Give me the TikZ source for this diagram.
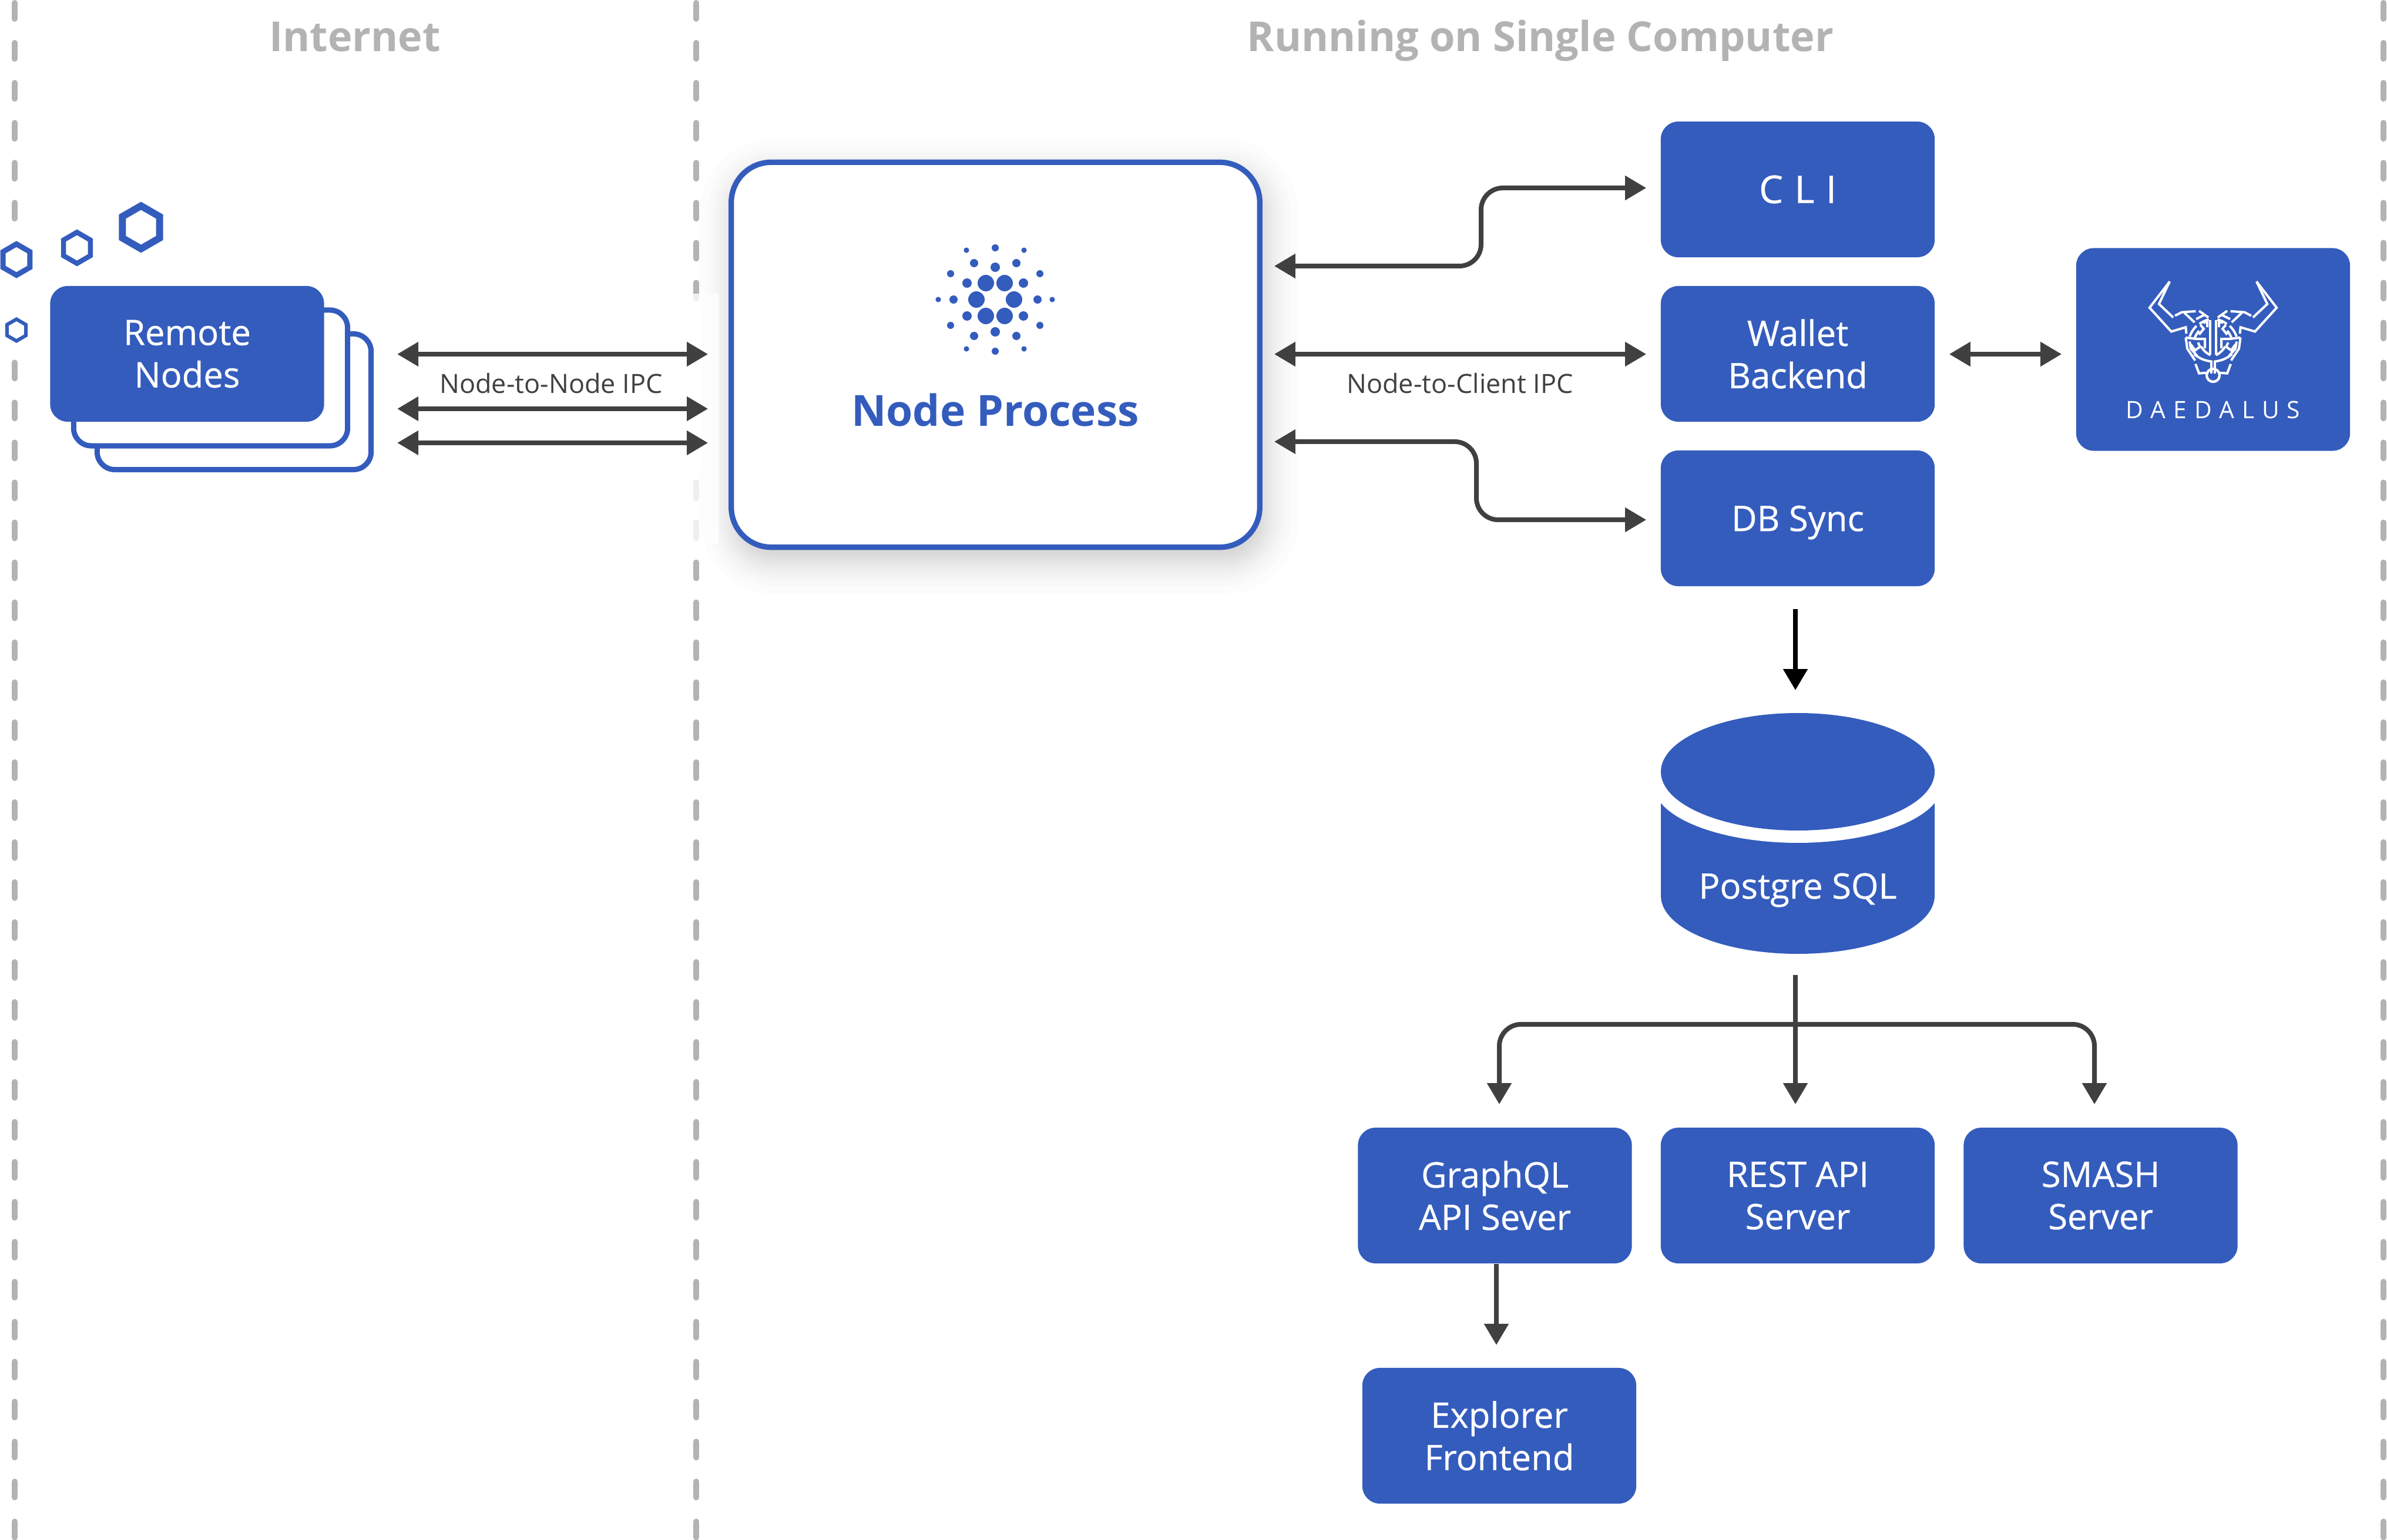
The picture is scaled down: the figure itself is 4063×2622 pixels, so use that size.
\documentclass[tikz,border=0pt]{standalone}
\usepackage{fontspec}
\setmainfont{Open Sans}
\newfontfamily\cardfont[FakeBold=0.6]{Open Sans}
\newfontfamily\spacedfont[LetterSpace=30,FakeBold=0.6]{Open Sans}
\newfontfamily\logofont[LetterSpace=32]{Open Sans}
\usetikzlibrary{arrows.meta,shapes.geometric}
\definecolor{cardblue}{HTML}{345CBD}
\definecolor{linegray}{HTML}{404040}
\definecolor{zonegray}{HTML}{B3B3B3}
\tikzset{
    card/.style={rectangle, rounded corners=0.3cm, minimum width=4.66cm, minimum height=2.31cm, inner sep=0pt, align=center, text=white, font=\fontsize{17}{20.5}\cardfont},
    bluecard/.style={card, fill=cardblue},
    backcard/.style={card, draw=cardblue, fill=white, line width=0.09cm},
    hexa/.style={regular polygon, regular polygon sides=6, draw=cardblue, fill=white, inner sep=0pt},
    zoneline/.style={zonegray, line width=0.1cm, line cap=round, dash pattern=on 0.27cm off 0.41cm},
    zonetitle/.style={anchor=base, text=zonegray, font=\fontsize{20}{24}\bfseries\selectfont},
    ipclabel/.style={text=linegray, font=\fontsize{12.8}{15}\selectfont},
    twoway/.style={linegray, line width=0.08cm, rounded corners=0.37cm, {Triangle[length=0.36cm,width=0.4cm]}-{Triangle[length=0.36cm,width=0.4cm]}},
    oneway/.style={linegray, line width=0.08cm, -{Triangle[length=0.36cm,width=0.4cm]}},
    bull/.style={white, line width=0.04cm}
}
\begin{document}
\begin{tikzpicture}[x=0.01cm, y=-0.01cm]
    \useasboundingbox (0,0) rectangle (4063,2622);
    \foreach \x in {25,1185,4057}{
        \draw[zoneline] (\x,5) -- (\x,2622);
    }
    \fill[white] (10,385) rectangle (40,600);
    \node[zonetitle] (internet) at (604,88) {Internet};
    \node[zonetitle] (single) at (2622,88) {Running on Single Computer};

    % soft shadow of the node process
    \foreach \d in {55,42,33,26,20,15,10,6,2,-2,-6,-10,-14,-18,-22,-26,-30,-34,-38,-42}{
        \pgfmathsetmacro{\r}{(72+\d)/100}
        \fill[black, opacity=0.013, rounded corners=\r cm] (1246-\d,292-\d) rectangle (2155+\d,956+\d);
    }
    \fill[white, opacity=0.8] (1172,500) rectangle (1223,925);
    \fill[white] (1175,520) rectangle (1195,800);

    \foreach \x/\y/\r/\w in {240/387/0.73/0.12, 131/422/0.53/0.085, 28/442/0.53/0.09, 28/562/0.37/0.06}{
        \node[hexa, shape border rotate=30, minimum size=\r cm, line width=\w cm] (hex\x\y) at (\x,\y) {};
    }

    \node[backcard] (stackb) at (398.5,684) {};
    \node[backcard] (stacka) at (358.5,643.5) {};
    \node[bluecard] (remote) at (318.5,602.5) {Remote\\Nodes};

    \node[draw=cardblue, fill=white, line width=0.093cm, rounded corners=0.68cm, minimum width=8.99cm, minimum height=6.55cm, inner sep=0pt] (nodeproc) at (1694.5,604) {};
    \node[text=cardblue, font=\fontsize{20.8}{26}\bfseries\selectfont] (nodetext) at (1694,698) {Node Process};
    \foreach \x/\y/\r in {-16/-28/14, 16/-28/14, -32/0/14, 32/0/14, -16/28/14, 16/28/14,
        -48/-28/8, 48/-28/8, -48/28/8, 48/28/8, 0/-55/8, 0/55/8,
        -36/-62/7, 36/-62/7, -36/62/7, 36/62/7, -71/0/7, 72/0/7,
        -76/-44/6, 76/-44/6, -76/44/6, 76/44/6, 0/-88/6, 0/88/6,
        -49/-84/4.6, 49/-84/4.6, -49/84/4.6, 49/84/4.6, -97/0/4.6, 97/0/4.6}{
        \fill[cardblue] (1694+\x,510+\y) circle (\r);
    }

    \node[bluecard] (cli) at (3060,322.5) {\fontsize{18.5}{20.5}\spacedfont CLI};
    \node[bluecard] (wallet) at (3060,602.5) {Wallet\\Backend};
    \node[bluecard] (dbsync) at (3060,882.5) {\raisebox{0pt}[\height][0pt]{DB Sync}};
    \node[bluecard, minimum height=3.45cm] (daedalus) at (3767,595) {};
    \node[text=white, font=\fontsize{11.6}{14}\logofont] (daedalustext) at (3767,698) {DAEDALUS};

    % bull head, one half and its mirror image
    \foreach \s in {1,-1}{
        \begin{scope}[shift={(3767,470)}, x=0.00333cm, y=-0.00333cm, xscale=\s]
            \draw[bull, line join=miter] (-222,28) -- (-325,162) -- (-214,284) -- (-140,262) -- (-137,295);
            \draw[bull, line join=miter] (-222,28) -- (-277,143) -- (-204,212);
            \draw[bull] (-195,203) -- (-160,185) -- (-89,180);
            \draw[bull] (-147,188) -- (-95,237);
            \draw[bull] (-72,178) -- (-24,212);
            \draw[bull] (-87,220) -- (-42,198);
            \draw[bull] (-120,310) to[bend left=12] (-85,255);
            \draw[bull] (-70,245) to[bend left=10] (-22,222);
            \draw[bull] (-95,320) to[bend left=10] (-72,280);
            \draw[bull] (-72,300) -- (-48,270) -- (-65,250);
            \draw[bull] (-50,240) -- (-30,232) -- (-30,262);
            \draw[bull] (-14,225) -- (-14,402);
            \draw[bull] (-140,315) -- (-132,372) -- (-92,432);
            \draw[bull] (-140,315) -- (-82,322) -- (-42,322) -- (-42,370);
            \draw[bull] (-120,335) -- (-114,372) -- (-82,408);
            \draw[bull] (-114,350) -- (-92,380) -- (-67,362) -- (-77,340);
            \draw[bull] (-97,400) to[bend right=15] (-4,438);
            \draw[bull] (-62,360) to[bend right=15] (-14,405);
            \draw[bull] (-10,440) -- (-10,500);
            \draw[bull] (-90,450) -- (-72,498) -- (-35,495);
            \draw[bull] (0,508) circle (33);
        \end{scope}
    }

    % database
    \node[minimum width=4.66cm, minimum height=4.1cm, inner sep=0pt] (postgre) at (3060,1419) {};
    \fill[cardblue] (2827,1367) -- (2827,1525) .. controls (2827,1580) and (2931,1624) .. (3060,1624) .. controls (3189,1624) and (3293,1580) .. (3293,1525) -- (3293,1367) -- cycle;
    \fill[white] (3060,1335) ellipse[x radius=246, y radius=100];
    \fill[cardblue] (3060,1314) ellipse[x radius=233, y radius=100];
    \node[anchor=base, text=white, font=\fontsize{17}{20.5}\cardfont] (postgretext) at (3060,1530) {Postgre SQL};

    \node[bluecard] (graphql) at (2544.5,2035.5) {GraphQL\\API Sever};
    \node[bluecard] (rest) at (3060,2035.5) {REST API\\Server};
    \node[bluecard] (smash) at (3575.5,2035.5) {SMASH\\Server};
    \node[bluecard] (explorer) at (2552,2444.5) {Explorer\\Frontend};

    % links
    \foreach \y in {603,696,754}{
        \draw[twoway, shorten <=0.4cm, shorten >=0.35cm] (stackb.east |- 0,\y) -- (nodeproc.west |- 0,\y);
    }
    \node[ipclabel] (n2n) at (938,653) {Node-to-Node IPC};
    \draw[twoway, shorten <=0.2cm, shorten >=0.24cm] (nodeproc.east |- 0,453) -- (2521,453) -- (2521,320) -- (cli.west |- 0,320);
    \draw[twoway, shorten <=0.2cm, shorten >=0.24cm] (nodeproc.east |- 0,603) -- (wallet.west |- 0,603);
    \draw[twoway, shorten <=0.2cm, shorten >=0.24cm] (nodeproc.east |- 0,752) -- (2513,752) -- (2513,885) -- (dbsync.west |- 0,885);
    \node[ipclabel] (n2c) at (2485,653) {Node-to-Client IPC};
    \draw[twoway, shorten <=0.24cm, shorten >=0.24cm] (wallet.east |- 0,603) -- (daedalus.west |- 0,603);
    \draw[oneway, black, shorten <=0.38cm, shorten >=0.38cm] (dbsync.south -| 3056,0) -- (postgre.north -| 3056,0);
    \draw[oneway, shorten <=0.35cm, shorten >=0.39cm] (postgre.south -| 3056,0) -- (rest.north -| 3056,0);
    \draw[twoway, shorten <=0.39cm, shorten >=0.39cm] (graphql.north -| 2552,0) -- (2552,1744) -- (3565,1744) -- (smash.north -| 3565,0);
    \draw[oneway] (graphql.south -| 2547,0) -- (2547,2290);
\end{tikzpicture}
\end{document}
